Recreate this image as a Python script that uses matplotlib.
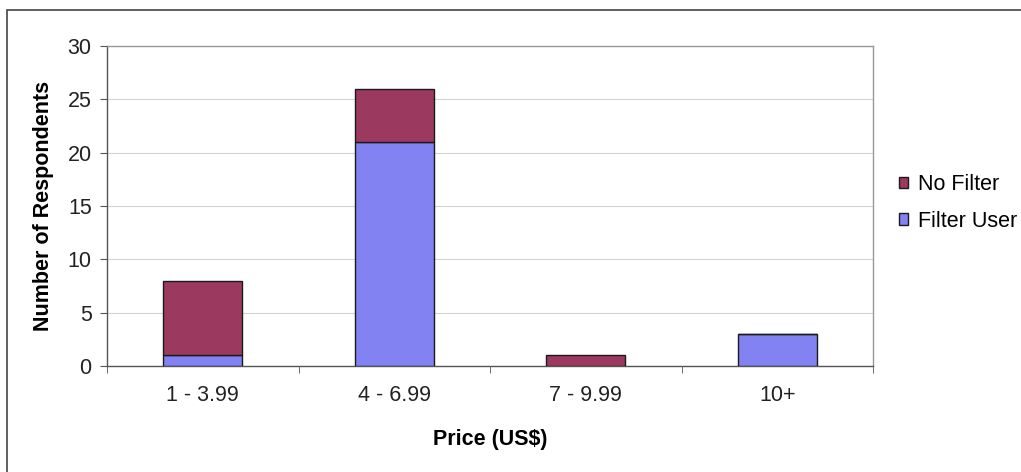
import numpy as np
import matplotlib
matplotlib.use("Agg")
import matplotlib.pyplot as plt
from matplotlib.patches import Rectangle

# Data
price_ranges = ["1 - 3.99", "4 - 6.99", "7 - 9.99", "10+"]
filter_user = [1, 21, 0, 3]
no_filter = [7, 5, 1, 0]

plt.rcParams["font.family"] = ["Liberation Sans", "DejaVu Sans"]

fig = plt.figure(figsize=(10.21, 4.72), dpi=100)
ax = fig.add_axes([107 / 1021, 106 / 472, 766 / 1021, 320 / 472])

x = np.arange(len(price_ranges))
width = 0.41
blue = "#8282F2"
maroon = "#9B3A5E"

b1 = ax.bar(x, filter_user, width, color=blue, edgecolor="#1a1a1a", linewidth=1.0,
            label="Filter User", zorder=3)
b2 = ax.bar(x, no_filter, width, bottom=filter_user, color=maroon, edgecolor="#1a1a1a",
            linewidth=1.0, label="No Filter", zorder=3)

ax.set_xlim(-0.5, len(price_ranges) - 0.5)
ax.set_ylim(0, 30)
ax.set_yticks(range(0, 31, 5))
ax.yaxis.grid(True, color="#d4d4d4", linewidth=0.8, zorder=0)

# category labels between boundary ticks, Excel style
ax.set_xticks(x)
ax.set_xticklabels(price_ranges)
ax.tick_params(axis="x", which="major", length=0, pad=14, labelsize=15.5, labelcolor="#222222")
ax.set_xticks(np.arange(-0.5, len(price_ranges)), minor=True)
ax.tick_params(axis="x", which="minor", length=5, color="#555555", direction="out")
ax.tick_params(axis="y", length=5, color="#555555", labelsize=15.5, labelcolor="#222222", pad=6)

for s in ["left", "bottom"]:
    ax.spines[s].set_color("#555555")
    ax.spines[s].set_linewidth(1.0)
for s in ["top", "right"]:
    ax.spines[s].set_color("#999999")
    ax.spines[s].set_linewidth(1.0)

ax.set_ylabel("Number of Respondents", fontsize=15.5, fontweight="bold", labelpad=10)
ax.set_xlabel("Price (US$)", fontsize=15.5, fontweight="bold", labelpad=16)

fig.legend(handles=[b2, b1], labels=["No Filter", "Filter User"],
           loc="center left", bbox_to_anchor=(899 / 1021, 1 - 203 / 472),
           frameon=False, fontsize=15.5, borderpad=0, borderaxespad=0,
           handlelength=0.42, handleheight=0.42,
           handletextpad=0.45, labelspacing=0.72)

# outer chart frame
fig.patches.append(Rectangle((7 / 1021, -0.1), 1.2, 1 - 10 / 472 + 0.1,
                             transform=fig.transFigure, fill=False,
                             edgecolor="#444444", linewidth=1.2))

fig.savefig("out.png", dpi=100)
